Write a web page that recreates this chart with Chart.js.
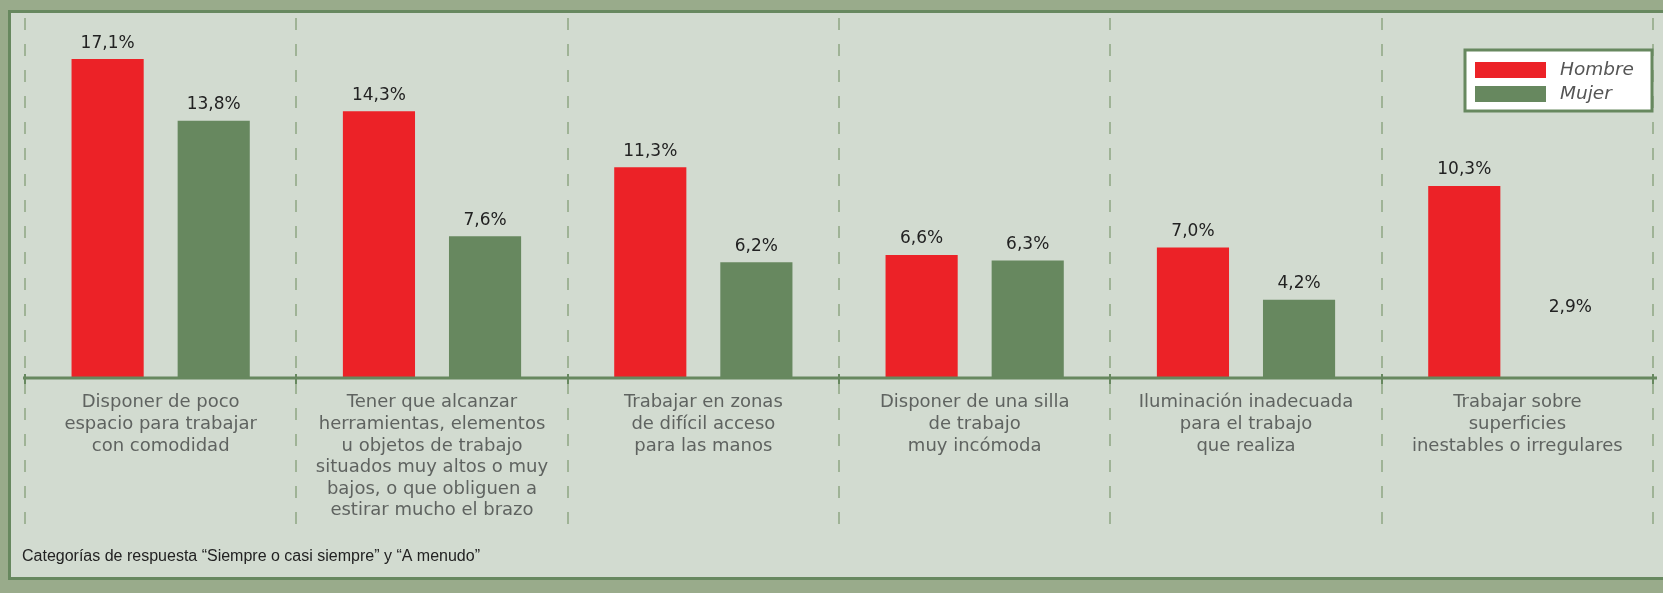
<!DOCTYPE html>
<html lang="es">
<head>
    <meta charset="UTF-8">
    <title>Condiciones del puesto de trabajo por sexo</title>
    <script src="https://cdn.jsdelivr.net/npm/chart.js"></script>
    <style>
        html, body { margin: 0; padding: 0; background: #99ab8b; }
        canvas { display: block; }
    </style>
</head>
<body>
    <canvas id="grafico" width="1663" height="593"></canvas>

    <script>
        // Datos
        const categorias = [
            ['Disponer de poco', 'espacio para trabajar', 'con comodidad'],
            ['Tener que alcanzar', 'herramientas, elementos', 'u objetos de trabajo', 'situados muy altos o muy', 'bajos, o que obliguen a', 'estirar mucho el brazo'],
            ['Trabajar en zonas', 'de difícil acceso', 'para las manos'],
            ['Disponer de una silla', 'de trabajo', 'muy incómoda'],
            ['Iluminación inadecuada', 'para el trabajo', 'que realiza'],
            ['Trabajar sobre', 'superficies', 'inestables o irregulares']
        ];
        const hombre = [17.1, 14.3, 11.3, 6.6, 7.0, 10.3];
        const mujer = [13.8, 7.6, 6.2, 6.3, 4.2, 2.9];
        const series = ['Hombre', 'Mujer'];
        const nota = 'Categorías de respuesta “Siempre o casi siempre” y “A menudo”';

        const ROJO = '#ec2227';
        const VERDE = '#67885f';
        const FONDO = '#d2dbd0';
        const BORDE = '#67885f';

        function formatoPct(v) {
            return v.toFixed(1).replace('.', ',') + '%';
        }

        // Fondo, panel, separadores y eje
        const fondoPlugin = {
            id: 'fondo',
            beforeDraw(chart) {
                const c = chart.ctx;
                c.save();
                c.fillStyle = '#99ab8b';
                c.fillRect(0, 0, chart.width, chart.height);
                c.fillStyle = FONDO;
                c.fillRect(9, 11, chart.width, 567);
                c.strokeStyle = BORDE;
                c.lineWidth = 3;
                c.strokeRect(9.5, 11.5, chart.width + 10, 567);

                const area = chart.chartArea;
                const ancho = (area.right - area.left) / categorias.length;
                c.strokeStyle = '#9fb396';
                c.lineWidth = 2;
                c.setLineDash([12, 14]);
                for (let i = 0; i <= categorias.length; i++) {
                    const x = Math.round(area.left + i * ancho);
                    c.beginPath();
                    c.moveTo(x, 18);
                    c.lineTo(x, 526);
                    c.stroke();
                }
                c.restore();
            },
            afterDatasetsDraw(chart) {
                const c = chart.ctx;
                const area = chart.chartArea;
                const ancho = (area.right - area.left) / categorias.length;
                c.save();
                c.strokeStyle = BORDE;
                c.lineWidth = 3;
                c.beginPath();
                c.moveTo(23, area.bottom);
                c.lineTo(1657, area.bottom);
                c.stroke();
                c.lineWidth = 2;
                for (let i = 0; i <= categorias.length; i++) {
                    const x = Math.round(area.left + i * ancho);
                    c.beginPath();
                    c.moveTo(x, area.bottom - 4);
                    c.lineTo(x, area.bottom + 6);
                    c.stroke();
                }

                // valores encima de las barras
                c.fillStyle = '#222';
                c.font = '17px "DejaVu Sans"';
                c.textAlign = 'center';
                c.textBaseline = 'middle';
                chart.data.datasets.forEach((ds, i) => {
                    chart.getDatasetMeta(i).data.forEach((bar, j) => {
                        c.fillText(formatoPct(ds.data[j]), bar.x, bar.y - 16);
                    });
                });

                // leyenda
                c.fillStyle = '#fff';
                c.fillRect(1465, 50, 187, 61);
                c.strokeStyle = BORDE;
                c.lineWidth = 3;
                c.strokeRect(1465, 50, 187, 61);
                const colores = [ROJO, VERDE];
                c.font = 'italic 18.5px "DejaVu Sans"';
                c.textAlign = 'left';
                series.forEach((s, i) => {
                    c.fillStyle = colores[i];
                    c.fillRect(1475, 62 + i * 24, 71, 16);
                    c.fillStyle = '#555';
                    c.fillText(s, 1560, 70 + i * 24);
                });

                // nota al pie
                c.fillStyle = '#222';
                c.font = '16px "Liberation Sans"';
                c.fillText(nota, 22, 557);
                c.restore();
            }
        };

        const ctx = document.getElementById('grafico').getContext('2d');
        const grafico = new Chart(ctx, {
            type: 'bar',
            data: {
                labels: categorias,
                datasets: [{
                    label: series[0],
                    data: hombre,
                    backgroundColor: ROJO
                }, {
                    label: series[1],
                    data: mujer,
                    // la última barra de Mujer no se ve en el original
                    backgroundColor: mujer.map((v, i) => i === mujer.length - 1 ? FONDO : VERDE)
                }]
            },
            options: {
                responsive: false,
                animation: false,
                categoryPercentage: 0.782,
                barPercentage: 0.68,
                layout: { padding: { left: 25, right: 10, top: 5, bottom: 0 } },
                plugins: {
                    legend: { display: false },
                    tooltip: { enabled: false }
                },
                scales: {
                    x: {
                        grid: { display: false, drawTicks: false },
                        border: { display: false },
                        ticks: {
                            autoSkip: false,
                            maxRotation: 0,
                            padding: 14,
                            color: '#5f6360',
                            font: { family: 'DejaVu Sans', size: 18, lineHeight: 1.2 }
                        },
                        afterFit(scale) { scale.height = 215; }
                    },
                    y: {
                        display: false,
                        min: 0,
                        max: 20
                    }
                }
            },
            plugins: [fondoPlugin]
        });
    </script>
</body>
</html>
